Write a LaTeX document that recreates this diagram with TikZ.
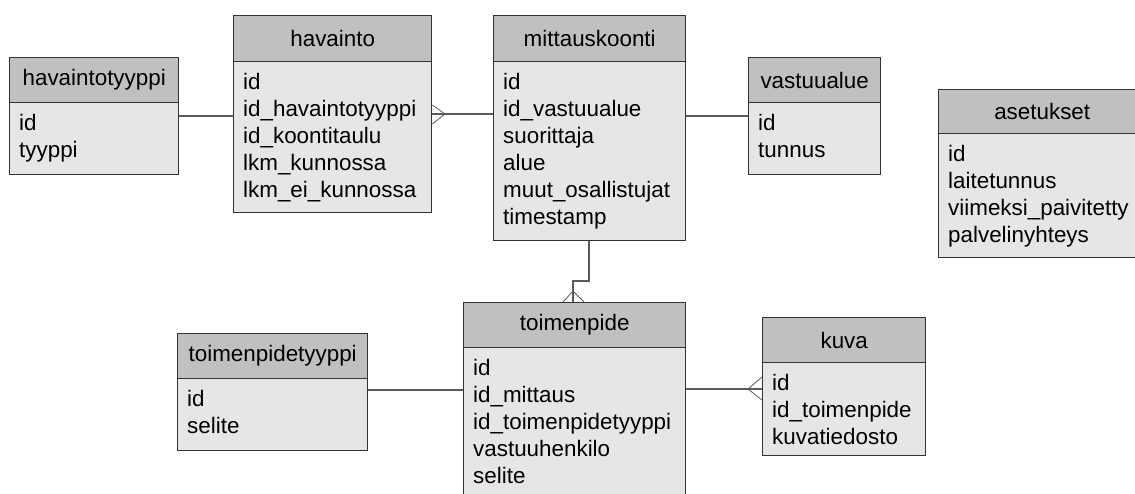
\documentclass[tikz,border=0pt]{standalone}
\usepackage{fontspec}
\setmainfont{Liberation Sans}
\definecolor{hdrfill}{HTML}{C0C0C0}
\definecolor{bodyfill}{HTML}{E6E6E6}
\definecolor{edge}{HTML}{333333}
\definecolor{link}{HTML}{5A5A5A}
\tikzset{
  hdr/.style={draw=edge, fill=hdrfill, line width=1.4pt, anchor=north west, inner sep=0pt,
    font=\fontsize{22.4}{27}\selectfont},
  bodybox/.style={draw=edge, fill=bodyfill, line width=1.4pt, anchor=north west, inner sep=0pt},
  rows/.style={anchor=north west, inner sep=0pt, align=left, font=\fontsize{22.4}{27}\selectfont},
  rel/.style={draw=link, line width=1.1pt},
  crow/.style={draw=link, line width=0.8pt},
}
\newcommand{\entitybox}[8]{%
  % #1 name, #2 x1, #3 ytop, #4 x2, #5 yhdr, #6 ybot, #7 title, #8 rows
  \node[hdr, minimum width={(#4-#2)*1pt}, minimum height={(#5-#3)*1pt}] (#1-h) at (#2pt,-#3pt) {#7};
  \node[bodybox, minimum width={(#4-#2)*1pt}, minimum height={(#6-#5)*1pt}] (#1) at (#2pt,-#5pt) {};
  \node[rows] (#1-t) at ({(#2+10)*1pt},{-(#5+8)*1pt}) {\rule{0pt}{20pt}#8};
}
\begin{document}
\begin{tikzpicture}[x=1pt,y=1pt]
\useasboundingbox (0,0) rectangle (1135,-493);
\fill[white] (0,0) rectangle (1135,-493);

\entitybox{havaintotyyppi}{9}{57}{178}{102}{174}{havaintotyyppi}{id\\tyyppi}
\entitybox{havainto}{233}{15}{431}{61}{212}{havainto}{id\\id\_havaintotyyppi\\id\_koontitaulu\\lkm\_kunnossa\\lkm\_ei\_kunnossa}
\entitybox{mittauskoonti}{493}{15}{685}{61}{240}{mittauskoonti}{id\\id\_vastuualue\\suorittaja\\alue\\muut\_osallistujat\\timestamp}
\entitybox{vastuualue}{748}{57}{880}{102}{174}{vastuualue}{id\\tunnus}
\entitybox{asetukset}{938}{89}{1145}{133}{257}{asetukset}{id\\laitetunnus\\viimeksi\_paivitetty\\palvelinyhteys}
\entitybox{toimenpidetyyppi}{177}{333}{367}{378}{450}{toimenpidetyyppi}{id\\selite}
\entitybox{toimenpide}{463}{302}{685}{347}{505}{toimenpide}{id\\id\_mittaus\\id\_toimenpidetyyppi\\vastuuhenkilo\\selite}
\entitybox{kuva}{762}{317}{925}{362}{455}{kuva}{id\\id\_toimenpide\\kuvatiedosto}

% havaintotyyppi -- havainto
\draw[rel] (havaintotyyppi.east |- 0,-116) -- (havainto.west |- 0,-116);
% havainto >-- mittauskoonti
\draw[rel] (havainto.east |- 0,-114) -- (mittauskoonti.west |- 0,-114);
\coordinate (c1) at (445,-114);
\draw[crow] (havainto.east |- 0,-105) -- (c1) -- (havainto.east |- 0,-124);
% mittauskoonti -- vastuualue
\draw[rel] (mittauskoonti.east |- 0,-116) -- (vastuualue.west |- 0,-116);
% mittauskoonti --< toimenpide
\coordinate (b1) at (589,-281);
\coordinate (b2) at (573,-281);
\draw[rel] (mittauskoonti.south -| b1) -- (b1) -- (b2) -- (toimenpide-h.north -| b2);
\coordinate (c2) at (573,-291);
\draw[crow] (toimenpide-h.north -| 563,0) -- (c2) -- (toimenpide-h.north -| 584,0);
% toimenpidetyyppi -- toimenpide
\draw[rel] (toimenpidetyyppi.east |- 0,-390) -- (toimenpide.west |- 0,-390);
% toimenpide --< kuva
\draw[rel] (toimenpide.east |- 0,-389) -- (kuva.west |- 0,-389);
\coordinate (c3) at (748,-389);
\draw[crow] (kuva.west |- 0,-377) -- (c3) -- (kuva.west |- 0,-400);
\end{tikzpicture}
\end{document}
